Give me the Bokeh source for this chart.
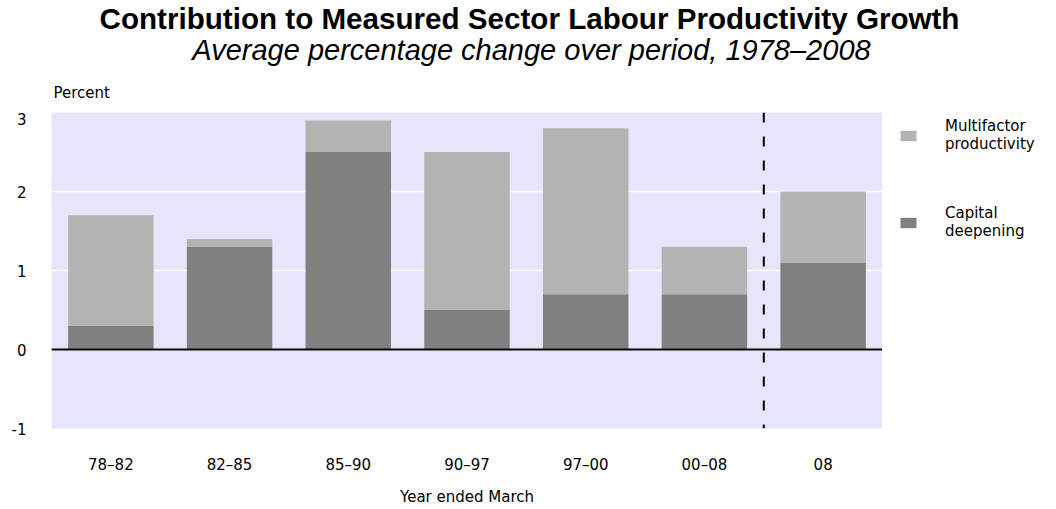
from bokeh.plotting import figure
from bokeh.models import (ColumnDataSource, FactorRange, Range1d, FixedTicker, Span,
                          Legend, LegendItem, Label)
from bokeh.layouts import column, row
from bokeh.embed import file_html
from bokeh.resources import INLINE

# ---- data ----
periods = ["78–82", "82–85", "85–90", "90–97", "97–00", "00–08", "08"]
capital = [0.3, 1.3, 2.5, 0.5, 0.7, 0.7, 1.1]
mfp = [1.4, 0.1, 0.4, 2.0, 2.1, 0.6, 0.9]
y_ticks = [-1, 0, 1, 2, 3]
y_tick_labels = {-1: "-1", 0: "0", 1: "1", 2: "2", 3: "3"}
legend_labels = ["Multifactor\nproductivity", "Capital\ndeepening"]
title = "Contribution to Measured Sector Labour Productivity Growth"
subtitle = "Average percentage change over period, 1978–2008"
y_label = "Percent"
x_label = "Year ended March"

COL_CAP = "#808080"
COL_MFP = "#B3B3B3"
FONT = "DejaVu Sans"

# ---- layout (page pixels) ----
W = 1040
TOP_H = 112          # header strip (titles + "Percent")
MAIN_W = 882         # main figure ends at frame right edge
MAIN_H = 396
FL = 51              # frame left
FRAME_H = 318        # frame height
LEG_W = W - MAIN_W


def blank(width, height, left=0):
    f = figure(width=width, height=height, output_backend="svg", toolbar_location=None,
               x_range=Range1d(0, width - left), y_range=Range1d(height, 0),
               x_axis_type=None, y_axis_type=None, title_location=None,
               min_border=0, min_border_left=left, min_border_right=0,
               min_border_top=0, min_border_bottom=0,
               outline_line_color=None, background_fill_color="white",
               border_fill_color="white")
    return f


# ---- header: title, subtitle, axis unit ----
head = blank(W, TOP_H)
head.add_layout(Label(x=529, y=18, text=title, text_align="center",
                      text_baseline="middle", text_font="Liberation Sans",
                      text_font_style="bold", text_font_size="29.6px", text_color="black"))
head.add_layout(Label(x=531, y=49, text=subtitle, text_align="center",
                      text_baseline="middle", text_font="Liberation Sans",
                      text_font_style="italic", text_font_size="29px", text_color="black"))
head.add_layout(Label(x=53, y=92, text=y_label, text_align="left",
                      text_baseline="middle", text_font=FONT,
                      text_font_size="15px", text_color="black"))

# ---- main chart ----
src = ColumnDataSource(dict(period=periods, capital=capital, mfp=mfp))
p = figure(x_range=FactorRange(factors=periods, range_padding=0), y_range=Range1d(-1, 3),
           width=MAIN_W, height=MAIN_H, output_backend="svg", toolbar_location=None,
           title_location=None,
           min_border_left=FL, min_border_right=0, min_border_top=0,
           min_border_bottom=MAIN_H - FRAME_H,
           background_fill_color="#E6E6FA", border_fill_color="white",
           outline_line_color=None)

rs = p.vbar_stack(["capital", "mfp"], x="period", width=0.72,
                  color=[COL_CAP, COL_MFP], line_color=None, source=src)

for ax in (p.xaxis, p.yaxis):
    ax.axis_line_color = None
    ax.major_tick_line_color = None
    ax.minor_tick_line_color = None
    ax.major_label_text_font = FONT
    ax.major_label_text_font_size = "15px"
    ax.major_label_text_color = "black"
p.yaxis.ticker = FixedTicker(ticks=y_ticks)
p.yaxis.major_label_overrides = y_tick_labels
p.yaxis.major_label_standoff = 19
p.xaxis.major_label_standoff = 21
p.xaxis.axis_label = x_label
p.xaxis.axis_label_text_font = FONT
p.xaxis.axis_label_text_font_size = "15px"
p.xaxis.axis_label_text_font_style = "normal"
p.xaxis.axis_label_text_color = "black"
p.xaxis.axis_label_standoff = 11

p.xgrid.grid_line_color = None
p.ygrid.grid_line_color = "white"
p.ygrid.grid_line_width = 1.5

p.add_layout(Span(location=0, dimension="width", line_color="black", line_width=2))
p.add_layout(Span(location=6, dimension="height", line_color="black", line_width=2,
                  line_dash="10 14"))

# ---- legend panel (proxy renderers share the series data but are hidden) ----
leg = blank(LEG_W, MAIN_H, left=11)
r_mfp = leg.vbar(x=0, top="mfp", width=1, source=src, fill_color=COL_MFP,
                 line_color=None, visible=False)
r_cap = leg.vbar(x=0, top="capital", width=1, source=src, fill_color=COL_CAP,
                 line_color=None, visible=False)
legend = Legend(items=[LegendItem(label=legend_labels[0], renderers=[r_mfp]),
                       LegendItem(label=legend_labels[1], renderers=[r_cap])],
                location="top_left", orientation="vertical",
                glyph_width=20, glyph_height=13, label_standoff=27, spacing=51,
                padding=0, margin=5, border_line_color=None, background_fill_alpha=0,
                inactive_fill_alpha=0,
                label_text_font=FONT, label_text_font_size="15px",
                label_text_color="black")
leg.add_layout(legend)

layout = column(head, row(p, leg))
open("out.html", "w").write(file_html(layout, INLINE))
